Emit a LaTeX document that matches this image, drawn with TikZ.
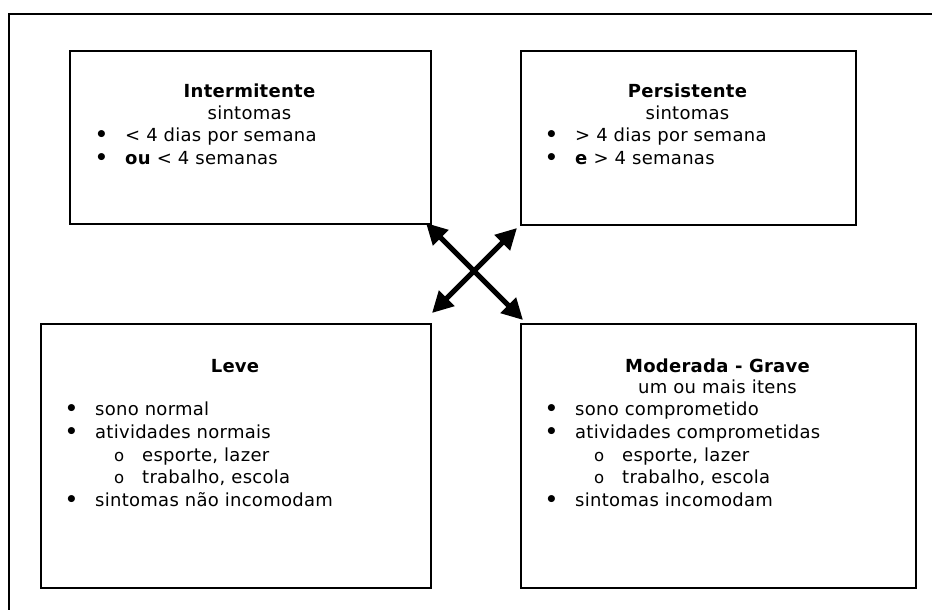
\documentclass[tikz,border=0pt]{standalone}
\usepackage{fontspec}
\setmainfont{DejaVu Sans}[LetterSpace=1.5]
\usetikzlibrary{arrows.meta}
\begin{document}
\begin{tikzpicture}[x=1pt,y=-1pt,
  box/.style={draw=black,line width=2pt,minimum width=#1,anchor=north west,inner sep=0pt},
  txt/.style={font=\fontsize{18}{22.5}\selectfont,inner sep=0pt},
  ttl/.style={font=\fontsize{18}{22.5}\selectfont\bfseries,inner sep=0pt,anchor=base},
  ctr/.style={txt,anchor=base},
  lft/.style={txt,anchor=base west},
  bul/.style={font=\fontsize{20}{22.5}\selectfont\bfseries,inner sep=0pt,anchor=base west},
  sub/.style={font=\fontsize{16.5}{22.5}\selectfont,inner sep=0pt,anchor=base west},
  dbl/.style={line width=5pt,{Triangle[length=21pt,width=21pt]}-{Triangle[length=21pt,width=21pt]}}
]
\useasboundingbox (0,0) rectangle (932,610);
\begin{scope}
\clip (0,0) rectangle (932,610);
\draw[line width=2pt] (9,640) -- (9,14) -- (960,14);
\end{scope}

% boxes
\node[box=361pt,minimum height=173pt] (int) at (69,50) {};
\node[box=335pt,minimum height=174pt] (per) at (520,50) {};
\node[box=390pt,minimum height=264pt] (lev) at (40,323) {};
\node[box=395pt,minimum height=264pt] (mod) at (520,323) {};

% Intermitente
\node[ttl] (intT) at (249.5,97) {Intermitente};
\node[ctr] (intS) at (249.5,119) {sintomas};
\node[bul] (intB1) at (95,141.5) {•};
\node[lft] (intL1) at (125,141.5) {< 4 dias por semana};
\node[bul] (intB2) at (95,164) {•};
\node[lft] (intL2) at (125,164) {\textbf{ou} < 4 semanas};

% Persistente
\node[ttl] (perT) at (687.5,97) {Persistente};
\node[ctr] (perS) at (687.5,119) {sintomas};
\node[bul] (perB1) at (545,141.5) {•};
\node[lft] (perL1) at (575,141.5) {> 4 dias por semana};
\node[bul] (perB2) at (545,164) {•};
\node[lft] (perL2) at (575,164) {\textbf{e} > 4 semanas};

% Leve
\node[ttl] (levT) at (235,372) {Leve};
\node[bul] (levB1) at (65,415) {•};
\node[lft] (levL1) at (95,415) {sono normal};
\node[bul] (levB2) at (65,438) {•};
\node[lft] (levL2) at (95,438) {atividades normais};
\node[sub] (levC1) at (114,461) {o};
\node[lft] (levS1) at (142,461) {esporte, lazer};
\node[sub] (levC2) at (114,483.5) {o};
\node[lft] (levS2) at (142,483.5) {trabalho, escola};
\node[bul] (levB3) at (65,506) {•};
\node[lft] (levL3) at (95,506) {sintomas não incomodam};

% Moderada - Grave
\node[ttl] (modT) at (717.5,372) {Moderada - Grave};
\node[ctr] (modS) at (717.5,393) {um ou mais itens};
\node[bul] (modB1) at (545,415) {•};
\node[lft] (modL1) at (575,415) {sono comprometido};
\node[bul] (modB2) at (545,438) {•};
\node[lft] (modL2) at (575,438) {atividades comprometidas};
\node[sub] (modC1) at (594,461) {o};
\node[lft] (modS1) at (622,461) {esporte, lazer};
\node[sub] (modC2) at (594,483.5) {o};
\node[lft] (modS2) at (622,483.5) {trabalho, escola};
\node[bul] (modB3) at (545,506) {•};
\node[lft] (modL3) at (575,506) {sintomas incomodam};

% arrows
\coordinate (a1) at (426,223);
\coordinate (a2) at (523,320);
\coordinate (b1) at (432,313);
\coordinate (b2) at (517,228);
\draw[dbl] (a1) -- (a2);
\draw[dbl] (b1) -- (b2);
\end{tikzpicture}
\end{document}
